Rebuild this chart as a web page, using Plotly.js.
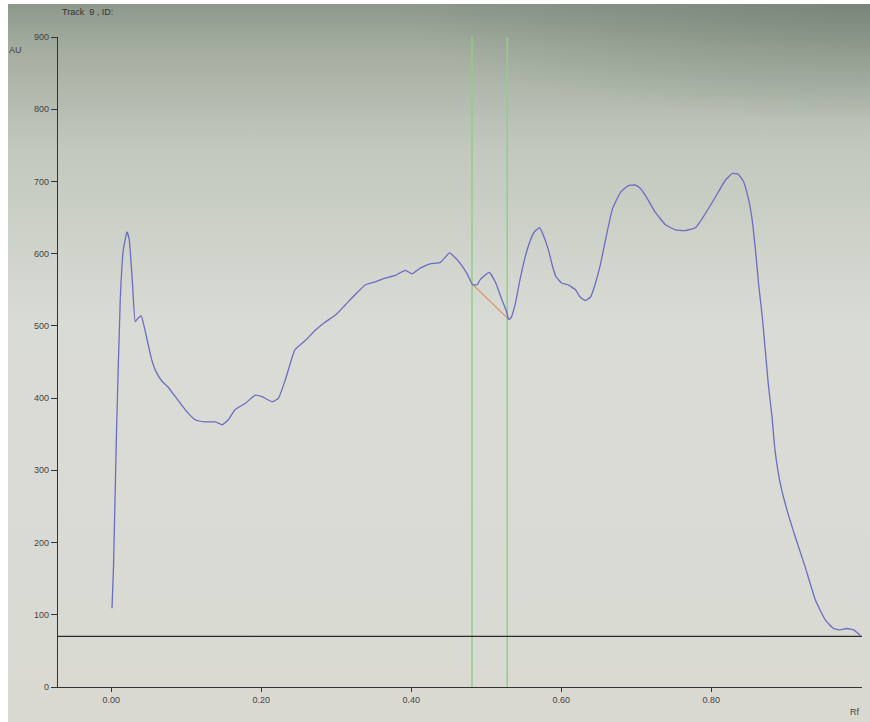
<!DOCTYPE html>
<html>
<head>
<meta charset="utf-8">
<script src="https://cdn.plot.ly/plotly-3.0.1.min.js"></script>
<style>html,body{margin:0;padding:0;background:#ffffff;}#chart{width:870px;height:722px;}</style>
</head>
<body>
<div id="chart"></div>
<script>
// Densitometry profile: Rf (x) vs AU (y)
const rf = [0.001,0.003,0.007,0.012,0.016,0.021,0.024,0.028,0.032,0.036,0.040,0.045,0.054,0.060,0.068,0.076,0.084,0.092,0.101,0.112,0.125,0.139,0.148,0.156,0.165,0.179,0.192,0.201,0.215,0.223,0.232,0.245,0.259,0.272,0.285,0.299,0.312,0.325,0.339,0.352,0.365,0.379,0.392,0.401,0.412,0.425,0.439,0.451,0.459,0.465,0.474,0.482,0.488,0.492,0.497,0.504,0.512,0.521,0.527,0.530,0.533,0.539,0.545,0.552,0.559,0.564,0.571,0.576,0.583,0.588,0.593,0.601,0.609,0.619,0.625,0.632,0.639,0.645,0.652,0.659,0.668,0.679,0.689,0.699,0.705,0.712,0.725,0.739,0.752,0.765,0.779,0.785,0.803,0.819,0.828,0.836,0.843,0.850,0.854,0.859,0.863,0.868,0.872,0.876,0.881,0.885,0.892,0.901,0.912,0.925,0.939,0.952,0.963,0.972,0.981,0.990,0.999];
const au = [109,166,352,536,605,630,619,564,506,511,514,494,453,436,423,415,404,393,381,370,367,367,363,370,384,393,404,402,395,400,425,467,480,494,505,515,529,543,557,561,566,570,577,572,580,586,588,601,594,587,573,557,557,564,569,574,561,536,520,509,511,532,564,596,619,630,636,626,605,584,568,559,557,550,540,535,540,557,584,619,661,685,694,695,691,681,658,640,633,632,636,644,674,702,711,710,700,674,651,605,559,513,467,420,374,328,282,245,208,167,120,93,81,79,81,79,71];

// Peak-boundary markers (green), baseline, and peak drop line (red)
const markerRf = [0.481, 0.528];
const markerAU = [0, 900];
const baselineRf = [-0.071, 1.001];
const baselineAU = [70, 70];
const dropRf = [0.482, 0.530];
const dropAU = [557, 509];

const yTicks = [0,100,200,300,400,500,600,700,800,900];
const xTicks = [0,0.2,0.4,0.6,0.8];
const xTickText = ['0.00','0.20','0.40','0.60','0.80'];

const traces = [];
markerRf.forEach(function(v){
  traces.push({x:[v,v], y:markerAU, mode:'lines', line:{color:'#8fcf86', width:1.5}, hoverinfo:'skip'});
});
traces.push({x:baselineRf, y:baselineAU, mode:'lines', line:{color:'#2a2a2a', width:1.2}, hoverinfo:'skip'});
traces.push({x:dropRf, y:dropAU, mode:'lines', line:{color:'#e0896a', width:1.1}, hoverinfo:'skip'});
traces.push({x:rf, y:au, mode:'lines', line:{color:'#6b6cc4', width:1.3, shape:'spline', smoothing:0.4}});

// photographed-screen background (gradient)
const bgSvg = '<svg xmlns="http://www.w3.org/2000/svg" width="100" height="100" viewBox="0 0 100 100" preserveAspectRatio="none">' +
  '<defs><linearGradient id="g" x1="0" y1="0" x2="0" y2="1">' +
  '<stop offset="0" stop-color="#8d988c"/><stop offset="0.06" stop-color="#a3ac9f"/>' +
  '<stop offset="0.2" stop-color="#c2c8be"/><stop offset="0.45" stop-color="#d9dcd5"/>' +
  '<stop offset="1" stop-color="#d9d9d2"/></linearGradient>' +
  '<radialGradient id="r" cx="1" cy="0" r="0.55" gradientTransform="scale(1,0.3)"><stop offset="0" stop-color="#5e6d60" stop-opacity="0.45"/>' +
  '<stop offset="1" stop-color="#5e6d60" stop-opacity="0"/></radialGradient></defs>' +
  '<rect width="100" height="100" fill="url(#g)"/><rect width="100" height="100" fill="url(#r)"/></svg>';
const bgUri = 'data:image/svg+xml;utf8,' + encodeURIComponent(bgSvg);

const layout = {
  width: 870, height: 722,
  margin: {l:58, r:8, t:37, b:35},
  paper_bgcolor: '#ffffff',
  plot_bgcolor: 'rgba(0,0,0,0)',
  showlegend: false,
  font: {family:'Liberation Sans, Arial, sans-serif', size:9, color:'#333'},
  title: {text:'Track  9 , ID:', x:62/870, xanchor:'left', y:1-12/722, yanchor:'middle',
          font:{size:9, color:'#333', family:'Liberation Sans, Arial, sans-serif'}},
  images: [{source:bgUri, xref:'paper', yref:'paper', x:(8-58)/804, y:1-(4-37)/650,
            sizex:(870-8)/804, sizey:(722-4)/650, sizing:'stretch', xanchor:'left', yanchor:'top', layer:'below'}],
  xaxis: {range:[-0.071, 1.001], showgrid:false, zeroline:false, showline:true,
          linecolor:'#333', linewidth:1.2, ticks:'outside', ticklen:4, tickcolor:'#333',
          tickvals:xTicks, ticktext:xTickText, tickfont:{size:9, color:'#444'}},
  yaxis: {range:[0, 900], showgrid:false, zeroline:false, showline:true,
          linecolor:'#333', linewidth:1.2, ticks:'outside', ticklen:6, tickcolor:'#333',
          tickvals:yTicks, tickfont:{size:9, color:'#444'}},
  annotations: [
    {text:'AU', xref:'paper', yref:'paper', x:(15-58)/804, y:1-(50-37)/650, xanchor:'center', yanchor:'middle', showarrow:false, font:{size:9, color:'#444'}},
    {text:'Rf', xref:'paper', yref:'paper', x:(855-58)/804, y:-(712-687)/650, xanchor:'center', yanchor:'middle', showarrow:false, font:{size:9, color:'#444'}}
  ]
};

Plotly.newPlot('chart', traces, layout, {displayModeBar:false, staticPlot:true});
</script>
</body>
</html>
